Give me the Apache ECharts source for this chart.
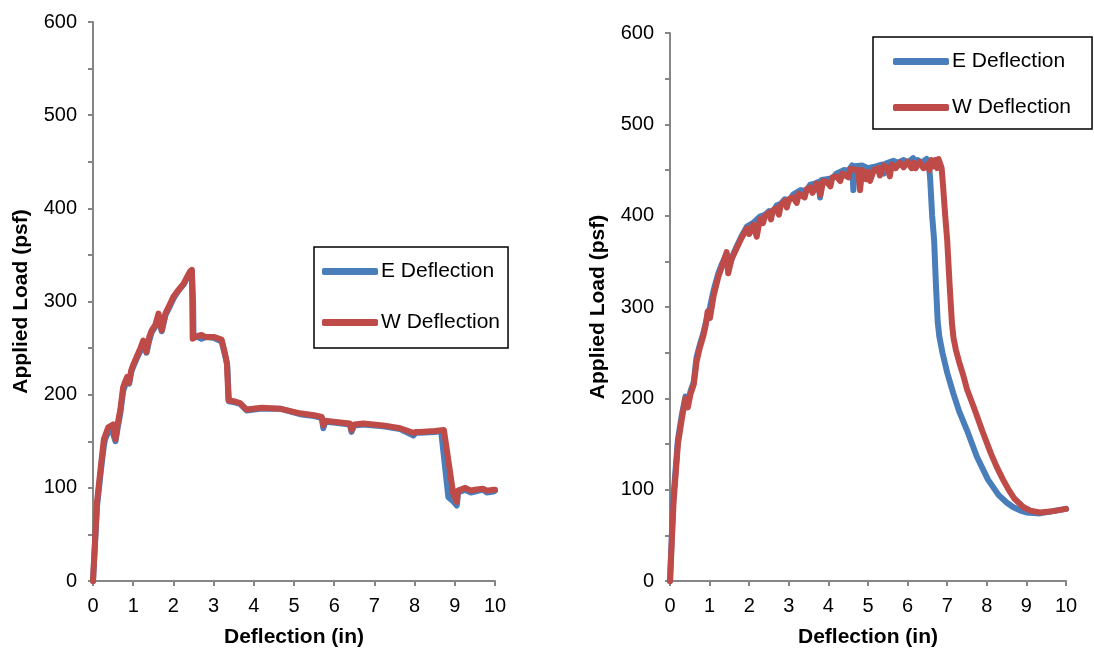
<!DOCTYPE html>
<html>
<head>
<meta charset="utf-8">
<script src="https://cdn.jsdelivr.net/npm/echarts@6/dist/echarts.min.js"></script>
<style>
html,body{margin:0;padding:0;background:#fff;}
#c{width:1094px;height:656px;}
</style>
</head>
<body>
<div id="c"></div>
<script>
// Tick values
const xTicks = [0, 10, 1];      // min, max, interval
const yTicks = [0, 600, 100];   // min, max, interval
const seriesNames = ['E Deflection', 'W Deflection'];

// Left chart: [deflection (in), load (psf)]
const leftE = [[0,0],[0.1,80],[0.2,120],[0.27,145],[0.3,152],[0.38,160],[0.45,163],[0.5,158],[0.56,150],[0.62,166],[0.68,180],[0.75,204],[0.8,210],[0.85,216],[0.9,212],[0.95,224],[1.0,230],[1.1,240],[1.18,247],[1.25,256],[1.33,245],[1.4,258],[1.46,267],[1.55,273],[1.63,284],[1.71,268],[1.8,285],[1.9,294],[2.0,303],[2.1,310],[2.25,318],[2.41,331],[2.46,333],[2.49,300],[2.5,262],[2.6,262],[2.7,260],[2.8,262],[3.0,261],[3.2,257],[3.28,243],[3.34,232],[3.38,193],[3.5,192],[3.66,190],[3.82,183],[4.2,185],[4.65,185],[5.15,179],[5.5,177],[5.69,175],[5.73,164],[5.78,171],[5.98,170],[6.39,168],[6.43,160],[6.5,167],[6.72,168],[7.22,166],[7.64,163],[7.97,156],[8.03,159],[8.13,159],[8.5,160],[8.66,161],[8.84,90],[8.95,86],[9.05,81],[9.08,95],[9.26,98],[9.4,95],[9.5,96],[9.7,98],[9.8,95],[9.96,96],[10,97]];
const leftW = [[0,0],[0.1,85],[0.2,125],[0.27,152],[0.32,158],[0.38,165],[0.43,166],[0.5,168],[0.56,152],[0.62,170],[0.68,184],[0.75,208],[0.8,214],[0.85,219],[0.9,213],[0.95,226],[1.0,232],[1.1,242],[1.18,250],[1.25,258],[1.33,246],[1.4,262],[1.46,269],[1.55,275],[1.63,287],[1.71,269],[1.8,287],[1.9,296],[2.0,305],[2.1,311],[2.25,319],[2.41,332],[2.46,334],[2.48,260],[2.6,263],[2.7,264],[2.8,262],[3.0,262],[3.2,259],[3.28,245],[3.33,234],[3.37,194],[3.5,193],[3.66,191],[3.82,184],[4.2,186],[4.65,185],[5.15,180],[5.5,178],[5.69,176],[5.73,167],[5.78,172],[5.98,171],[6.39,169],[6.43,162],[6.5,168],[6.72,169],[7.22,167],[7.64,164],[7.97,159],[8.03,160],[8.13,160],[8.5,161],[8.73,162],[8.96,94],[9.05,85],[9.08,97],[9.26,100],[9.4,97],[9.5,98],[9.7,99],[9.8,97],[9.96,98],[10,98]];

// Right chart: [deflection (in), load (psf)]
const rightE = [[0,0],[0.08,88],[0.2,155],[0.3,182],[0.39,202],[0.45,195],[0.52,208],[0.6,218],[0.67,245],[0.75,258],[0.84,271],[0.9,282],[1.01,300],[1.1,318],[1.22,337],[1.3,346],[1.43,358],[1.5,345],[1.6,358],[1.68,366],[1.8,377],[1.94,388],[2.1,392],[2.27,399],[2.4,401],[2.5,405],[2.6,404],[2.69,411],[2.8,413],[2.9,418],[3.0,416],[3.11,423],[3.3,428],[3.45,427],[3.54,434],[3.65,435],[3.75,437],[3.79,420],[3.83,439],[3.96,440],[4.1,441],[4.2,446],[4.4,450],[4.5,449],[4.6,455],[4.63,428],[4.67,454],[4.85,455],[5.0,452],[5.2,454],[5.35,456],[5.4,446],[5.45,457],[5.64,460],[5.75,458],[5.9,461],[6.0,458],[6.14,463],[6.2,452],[6.25,461],[6.35,458],[6.48,462],[6.54,456],[6.57,440],[6.62,400],[6.67,373],[6.72,320],[6.76,284],[6.8,268],[6.88,250],[7.0,228],[7.15,206],[7.3,186],[7.5,165],[7.75,136],[8.03,111],[8.3,94],[8.5,86],[8.66,81],[8.85,77],[9.0,75],[9.34,74],[9.6,76],[10,79]];
const rightW = [[0,0],[0.09,86],[0.2,150],[0.3,178],[0.39,200],[0.45,190],[0.52,205],[0.6,215],[0.67,240],[0.75,255],[0.84,268],[0.9,280],[0.95,295],[1.01,288],[1.1,312],[1.22,333],[1.3,343],[1.43,360],[1.47,337],[1.55,352],[1.68,364],[1.8,375],[1.94,386],[2.0,380],[2.1,390],[2.19,377],[2.27,396],[2.35,392],[2.4,400],[2.5,403],[2.55,396],[2.6,406],[2.69,408],[2.75,401],[2.8,412],[2.9,416],[2.95,409],[3.0,418],[3.11,420],[3.2,414],[3.25,424],[3.3,425],[3.4,420],[3.45,429],[3.54,431],[3.6,425],[3.7,435],[3.8,423],[3.87,438],[3.96,437],[4.05,432],[4.1,442],[4.2,443],[4.3,438],[4.35,446],[4.4,447],[4.5,442],[4.55,451],[4.6,452],[4.75,450],[4.8,428],[4.85,450],[4.95,440],[5.0,448],[5.05,438],[5.15,450],[5.25,452],[5.3,444],[5.4,455],[5.5,452],[5.55,443],[5.6,456],[5.7,452],[5.8,458],[5.9,453],[6.0,459],[6.1,452],[6.14,458],[6.2,452],[6.3,459],[6.4,452],[6.5,456],[6.55,450],[6.6,461],[6.65,454],[6.7,461],[6.75,452],[6.78,462],[6.83,456],[6.86,452],[6.9,430],[6.95,400],[7.0,373],[7.06,325],[7.12,282],[7.16,266],[7.22,253],[7.3,240],[7.4,226],[7.5,210],[7.7,187],[7.88,165],[8.1,140],[8.25,125],[8.41,111],[8.55,100],[8.7,90],[8.92,81],[9.1,77],[9.34,75],[9.6,76],[10,79]];

const BLUE = '#4a7ebb', RED = '#be4b48', AXIS = '#868686';
const FONT = '"Liberation Sans", Arial, sans-serif';

function xAxis(gi) {
  return {
    type: 'value', gridIndex: gi, min: xTicks[0], max: xTicks[1], interval: xTicks[2],
    name: 'Deflection (in)', nameLocation: 'middle', nameGap: 46,
    nameTextStyle: {fontFamily: FONT, fontSize: 21, fontWeight: 'bold', color: '#000'},
    axisLine: {show: true, lineStyle: {color: AXIS, width: 2}},
    axisTick: {show: true, length: 5, lineStyle: {color: AXIS, width: 2}},
    axisLabel: {fontFamily: FONT, fontSize: 20, color: '#000', margin: 15},
    splitLine: {show: false}
  };
}
function yAxis(gi) {
  return {
    type: 'value', gridIndex: gi, min: yTicks[0], max: yTicks[1], interval: yTicks[2],
    name: 'Applied Load (psf)', nameLocation: 'middle', nameGap: 61,
    nameTextStyle: {fontFamily: FONT, fontSize: 21, fontWeight: 'bold', color: '#000'},
    axisLine: {show: true, lineStyle: {color: AXIS, width: 2}},
    axisTick: {show: true, length: 5, lineStyle: {color: AXIS, width: 2}},
    minorTick: {show: true, splitNumber: 2, length: 5, lineStyle: {color: AXIS, width: 2}},
    axisLabel: {fontFamily: FONT, fontSize: 20, color: '#000', margin: 16},
    splitLine: {show: false}, minorSplitLine: {show: false}
  };
}
function line(name, data, color, gi) {
  return {
    type: 'line', name: name, xAxisIndex: gi, yAxisIndex: gi, data: data,
    showSymbol: false, symbol: 'none', animation: false,
    lineStyle: {color: color, width: 6, cap: 'round', join: 'round'},
    itemStyle: {color: color}
  };
}
function legend(left, top, gap, pad) {
  return {
    show: true, orient: 'vertical', left: left, top: top, itemGap: gap, padding: pad,
    data: seriesNames.map(n => ({name: n, icon: 'roundRect'})),
    itemWidth: 56, itemHeight: 7,
    borderColor: '#000', borderWidth: 1.5, backgroundColor: '#fff',
    textStyle: {fontFamily: FONT, fontSize: 21, color: '#000', padding: [0,0,0,-2]},
    selectedMode: false
  };
}

const chart = echarts.init(document.getElementById('c'), null, {renderer: 'canvas'});
chart.setOption({
  animation: false,
  backgroundColor: '#fff',
  grid: [
    {left: 93, top: 22, width: 402, height: 559},
    {left: 670, top: 33, width: 396, height: 548}
  ],
  xAxis: [xAxis(0), xAxis(1)],
  yAxis: [yAxis(0), yAxis(1)],
  legend: [
    legend(314, 247, 30, [14, 8, 15, 8]),
    legend(873, 37, 25, [14, 21, 11, 20])
  ],
  series: [
    line(seriesNames[0], leftE, BLUE, 0),
    line(seriesNames[1], leftW, RED, 0),
    line(seriesNames[0], rightE, BLUE, 1),
    line(seriesNames[1], rightW, RED, 1)
  ]
});
</script>
</body>
</html>
